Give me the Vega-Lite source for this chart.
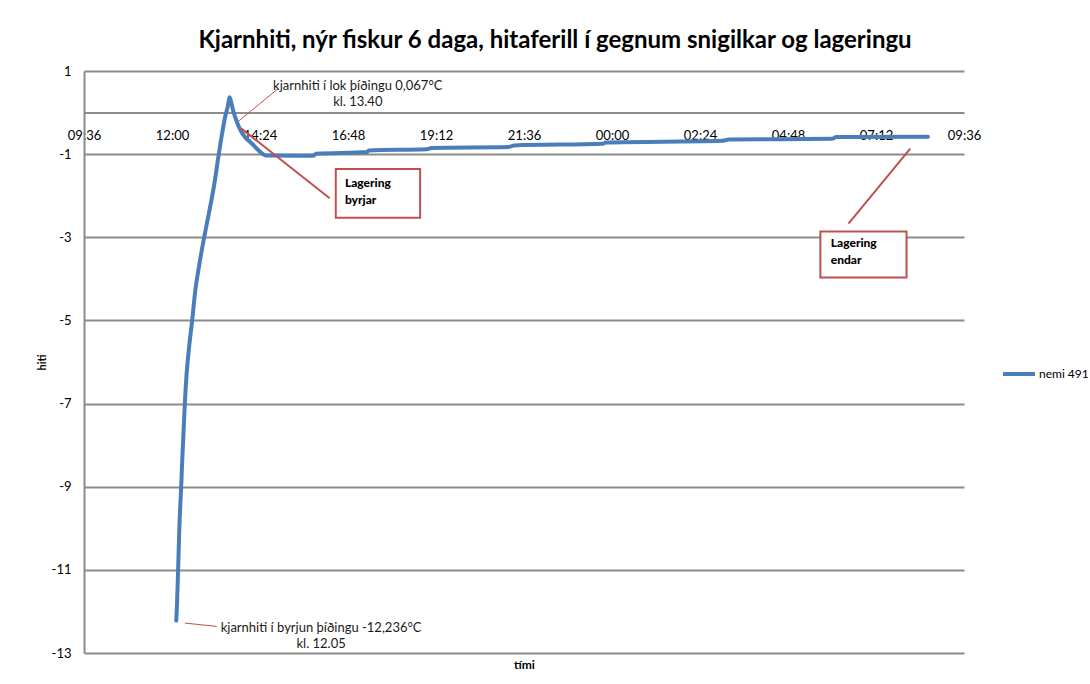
{
  "$schema": "https://vega.github.io/schema/vega-lite/v6.json",
  "width": 880,
  "height": 582,
  "autosize": {"type": "none"},
  "padding": {"left": 84, "top": 71, "right": 126, "bottom": 31},
  "background": "white",
  "config": {"font": "Lato", "view": {"stroke": null}},
  "title": {
    "text": "Kjarnhiti, nýr fiskur 6 daga, hitaferill í gegnum snigilkar og lageringu",
    "font": "Lato", "fontSize": 24, "fontWeight": "bold", "color": "#000",
    "anchor": "middle", "frame": "group", "dx": 31, "offset": 12
  },
  "datasets": {
    "curve": [
      {"t": "2000-01-01T12:07", "v": -12.22},
      {"t": "2000-01-01T12:08", "v": -11.9},
      {"t": "2000-01-01T12:10", "v": -11.0},
      {"t": "2000-01-01T12:12", "v": -10.0},
      {"t": "2000-01-01T12:15", "v": -9.0},
      {"t": "2000-01-01T12:17", "v": -8.28},
      {"t": "2000-01-01T12:19", "v": -7.64},
      {"t": "2000-01-01T12:21", "v": -7.0},
      {"t": "2000-01-01T12:24", "v": -6.27},
      {"t": "2000-01-01T12:28", "v": -5.64},
      {"t": "2000-01-01T12:33", "v": -5.0},
      {"t": "2000-01-01T12:38", "v": -4.3},
      {"t": "2000-01-01T12:45", "v": -3.63},
      {"t": "2000-01-01T12:52", "v": -3.05},
      {"t": "2000-01-01T12:58", "v": -2.6},
      {"t": "2000-01-01T13:04", "v": -2.15},
      {"t": "2000-01-01T13:10", "v": -1.65},
      {"t": "2000-01-01T13:15", "v": -1.15},
      {"t": "2000-01-01T13:21", "v": -0.59},
      {"t": "2000-01-01T13:27", "v": -0.1},
      {"t": "2000-01-01T13:32", "v": 0.2},
      {"t": "2000-01-01T13:34", "v": 0.37},
      {"t": "2000-01-01T13:36", "v": 0.3},
      {"t": "2000-01-01T13:40", "v": 0.05},
      {"t": "2000-01-01T13:46", "v": -0.22},
      {"t": "2000-01-01T13:53", "v": -0.45},
      {"t": "2000-01-01T14:00", "v": -0.6},
      {"t": "2000-01-01T14:11", "v": -0.75},
      {"t": "2000-01-01T14:21", "v": -0.9},
      {"t": "2000-01-01T14:34", "v": -1.03},
      {"t": "2000-01-01T15:51", "v": -1.04},
      {"t": "2000-01-01T15:56", "v": -0.99},
      {"t": "2000-01-01T17:19", "v": -0.95},
      {"t": "2000-01-01T17:22", "v": -0.91},
      {"t": "2000-01-01T18:57", "v": -0.88},
      {"t": "2000-01-01T19:05", "v": -0.85},
      {"t": "2000-01-01T21:10", "v": -0.83},
      {"t": "2000-01-01T21:20", "v": -0.79},
      {"t": "2000-01-01T23:45", "v": -0.75},
      {"t": "2000-01-01T23:50", "v": -0.72},
      {"t": "2000-01-02T03:00", "v": -0.68},
      {"t": "2000-01-02T03:11", "v": -0.65},
      {"t": "2000-01-02T06:00", "v": -0.63},
      {"t": "2000-01-02T06:07", "v": -0.59},
      {"t": "2000-01-02T08:37", "v": -0.58}
    ],
    "leadersThick": [
      {"t": "2000-01-01T13:53", "v": -0.38, "t2": "2000-01-01T16:18", "v2": -2.06},
      {"t": "2000-01-02T06:27", "v": -2.67, "t2": "2000-01-02T08:08", "v2": -0.87}
    ],
    "leadersThin": [
      {"t": "2000-01-01T14:54", "v": 0.58, "t2": "2000-01-01T13:47", "v2": -0.23},
      {"t": "2000-01-01T12:21", "v": -12.28, "t2": "2000-01-01T13:13", "v2": -12.36}
    ],
    "boxes": [
      {"t": "2000-01-01T16:28", "t2": "2000-01-01T18:46", "v": -1.36, "v2": -2.53},
      {"t": "2000-01-02T05:41", "t2": "2000-01-02T08:02", "v": -2.86, "v2": -3.97}
    ],
    "notes": [
      {"t": "2000-01-01T17:04", "v": 0.63, "label": "kjarnhiti í lok þíðingu 0,067°C\nkl. 13.40"},
      {"t": "2000-01-01T16:04", "v": -12.39, "label": "kjarnhiti í byrjun þíðingu -12,236°C\nkl. 12.05"}
    ],
    "boxLabels": [
      {"t": "2000-01-01T16:43", "v": -1.58, "label": "Lagering\nbyrjar"},
      {"t": "2000-01-02T05:58", "v": -3.02, "label": "Lagering\nendar"}
    ]
  },
  "encoding": {
    "x": {
      "field": "t", "type": "temporal",
      "scale": {
        "domain": [
          {"year": 2000, "month": 1, "date": 1, "hours": 9, "minutes": 36},
          {"year": 2000, "month": 1, "date": 2, "hours": 9, "minutes": 36}
        ],
        "nice": false
      },
      "axis": {
        "orient": "bottom", "offset": -540.4,
        "values": [
          {"year": 2000, "month": 1, "date": 1, "hours": 9, "minutes": 36},
          {"year": 2000, "month": 1, "date": 1, "hours": 12, "minutes": 0},
          {"year": 2000, "month": 1, "date": 1, "hours": 14, "minutes": 24},
          {"year": 2000, "month": 1, "date": 1, "hours": 16, "minutes": 48},
          {"year": 2000, "month": 1, "date": 1, "hours": 19, "minutes": 12},
          {"year": 2000, "month": 1, "date": 1, "hours": 21, "minutes": 36},
          {"year": 2000, "month": 1, "date": 2, "hours": 0, "minutes": 0},
          {"year": 2000, "month": 1, "date": 2, "hours": 2, "minutes": 24},
          {"year": 2000, "month": 1, "date": 2, "hours": 4, "minutes": 48},
          {"year": 2000, "month": 1, "date": 2, "hours": 7, "minutes": 12},
          {"year": 2000, "month": 1, "date": 2, "hours": 9, "minutes": 36}
        ],
        "format": "%H:%M", "labelFlush": false, "labelOverlap": false,
        "grid": false, "ticks": false, "tickSize": 0,
        "domainColor": "#8c8c8c", "domainWidth": 2,
        "labelPadding": 17, "labelFont": "Lato", "labelFontSize": 13, "labelColor": "#000",
        "title": "tími", "titleFont": "Lato", "titleFontSize": 12, "titleFontWeight": "bold", "titleColor": "#000",
        "titleX": 440, "titleY": 552, "titleBaseline": "middle", "titleAlign": "center"
      }
    },
    "y": {
      "field": "v", "type": "quantitative",
      "scale": {"domain": [-13, 1], "nice": false, "zero": false},
      "axis": {
        "values": [1, -1, -3, -5, -7, -9, -11, -13],
        "labelExpr": "'' + datum.value",
        "grid": true, "gridColor": "#8c8c8c", "gridWidth": 2,
        "domainColor": "#8c8c8c", "domainWidth": 2,
        "ticks": false, "tickSize": 0,
        "labelPadding": 13, "labelFont": "Lato", "labelFontSize": 13, "labelColor": "#000",
        "title": "hiti", "titleFont": "Lato", "titleFontSize": 11, "titleFontWeight": "bold", "titleColor": "#000",
        "titleAngle": -90, "titleX": -42, "titleY": 291, "titleAlign": "center", "titleBaseline": "middle"
      }
    }
  },
  "layer": [
    {
      "data": {"name": "curve"},
      "mark": {"type": "line", "strokeWidth": 4, "strokeCap": "round", "strokeJoin": "round", "interpolate": "monotone"},
      "encoding": {
        "color": {
          "datum": "nemi 491",
          "scale": {"range": ["#4a7ebb"]},
          "legend": {
            "orient": "none", "legendX": 917, "legendY": 285, "title": null, "padding": 0,
            "symbolType": "stroke", "symbolSize": 1024, "symbolStrokeWidth": 4,
            "labelFont": "Lato", "labelFontSize": 12, "labelColor": "#000", "labelOffset": 2
          }
        }
      }
    },
    {
      "data": {"name": "boxes"},
      "mark": {"type": "rect", "fill": "white", "stroke": "#c0504d", "strokeWidth": 2},
      "encoding": {"x2": {"field": "t2"}, "y2": {"field": "v2"}}
    },
    {
      "data": {"name": "leadersThick"},
      "mark": {"type": "rule", "color": "#c0504d", "strokeWidth": 2},
      "encoding": {"x2": {"field": "t2"}, "y2": {"field": "v2"}}
    },
    {
      "data": {"name": "leadersThin"},
      "mark": {"type": "rule", "color": "#c0504d", "strokeWidth": 1},
      "encoding": {"x2": {"field": "t2"}, "y2": {"field": "v2"}}
    },
    {
      "data": {"name": "notes"},
      "mark": {"type": "text", "font": "Lato", "fontSize": 13, "lineBreak": "\n", "lineHeight": 16, "align": "center", "baseline": "middle", "color": "#1a1a1a"},
      "encoding": {"text": {"field": "label"}}
    },
    {
      "data": {"name": "boxLabels"},
      "mark": {"type": "text", "font": "Lato", "fontSize": 12, "fontWeight": 900, "lineBreak": "\n", "lineHeight": 17, "align": "left", "baseline": "top", "color": "#000"},
      "encoding": {"text": {"field": "label"}}
    }
  ]
}
